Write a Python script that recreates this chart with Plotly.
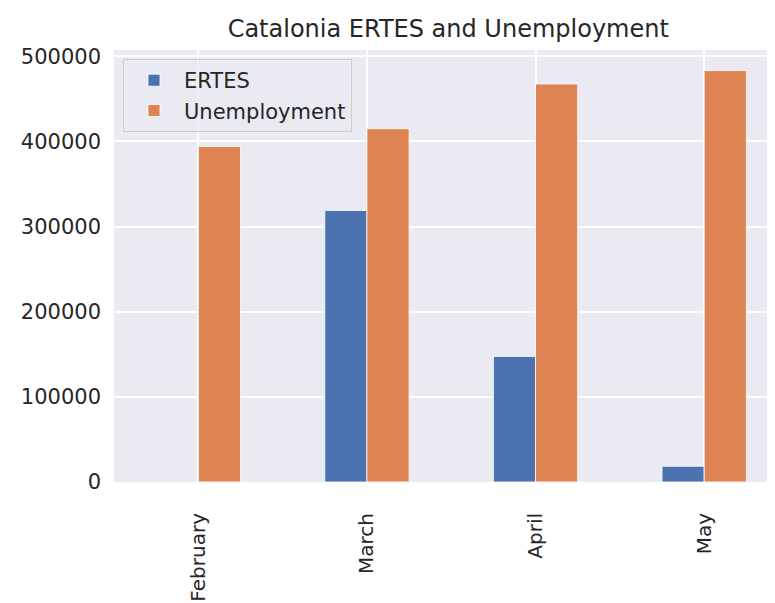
import plotly.graph_objects as go

months = ["February", "March", "April", "May"]
ertes = [None, 319000, 147500, 18500]
unemployment = [394000, 415000, 467500, 483300]
y_ticks = [0, 100000, 200000, 300000, 400000, 500000]

font = "DejaVu Sans"
ink = "#262626"

fig = go.Figure()
fig.add_trace(go.Bar(x=months, y=ertes, name="ERTES",
                     marker=dict(color="#4C72B0", line=dict(color="white", width=0.8))))
fig.add_trace(go.Bar(x=months, y=unemployment, name="Unemployment",
                     marker=dict(color="#DD8452", line=dict(color="white", width=0.8))))

# page body has an 8px margin, so the figure is a bit smaller than the window
fig.update_layout(
    width=767, height=595,
    margin=dict(l=106, r=0, t=42, b=121, autoexpand=False),
    paper_bgcolor="white", plot_bgcolor="#EAEAF2",
    font=dict(family=font, size=21, color=ink),
    title=dict(text="Catalonia ERTES and Unemployment", x=0.574, xanchor="center",
               y=0.966, yanchor="middle", font=dict(size=24, color=ink)),
    barmode="group", bargap=0.5, bargroupgap=0,
    legend=dict(x=0.0136, y=0.979, xanchor="left", yanchor="top",
                bgcolor="rgba(234,234,242,0.8)", bordercolor="#CCCCCC", borderwidth=1,
                font=dict(size=21, color=ink), itemwidth=50, tracegroupgap=4),
    showlegend=True,
)
fig.update_xaxes(range=[-0.5, 3.42], showgrid=True, gridcolor="white", gridwidth=1.5,
                 tickangle=-90, ticks="", ticklabelstandoff=26, zeroline=False,
                 showline=False, tickfont=dict(size=20), automargin=False)
fig.update_yaxes(range=[0, 507465], tickvals=y_ticks, tickformat="d",
                 showgrid=True, gridcolor="white", gridwidth=1.5, zeroline=False,
                 ticks="", ticklabelstandoff=12, showline=False, tickfont=dict(size=21),
                 automargin=False)

fig.write_html("out.html")
